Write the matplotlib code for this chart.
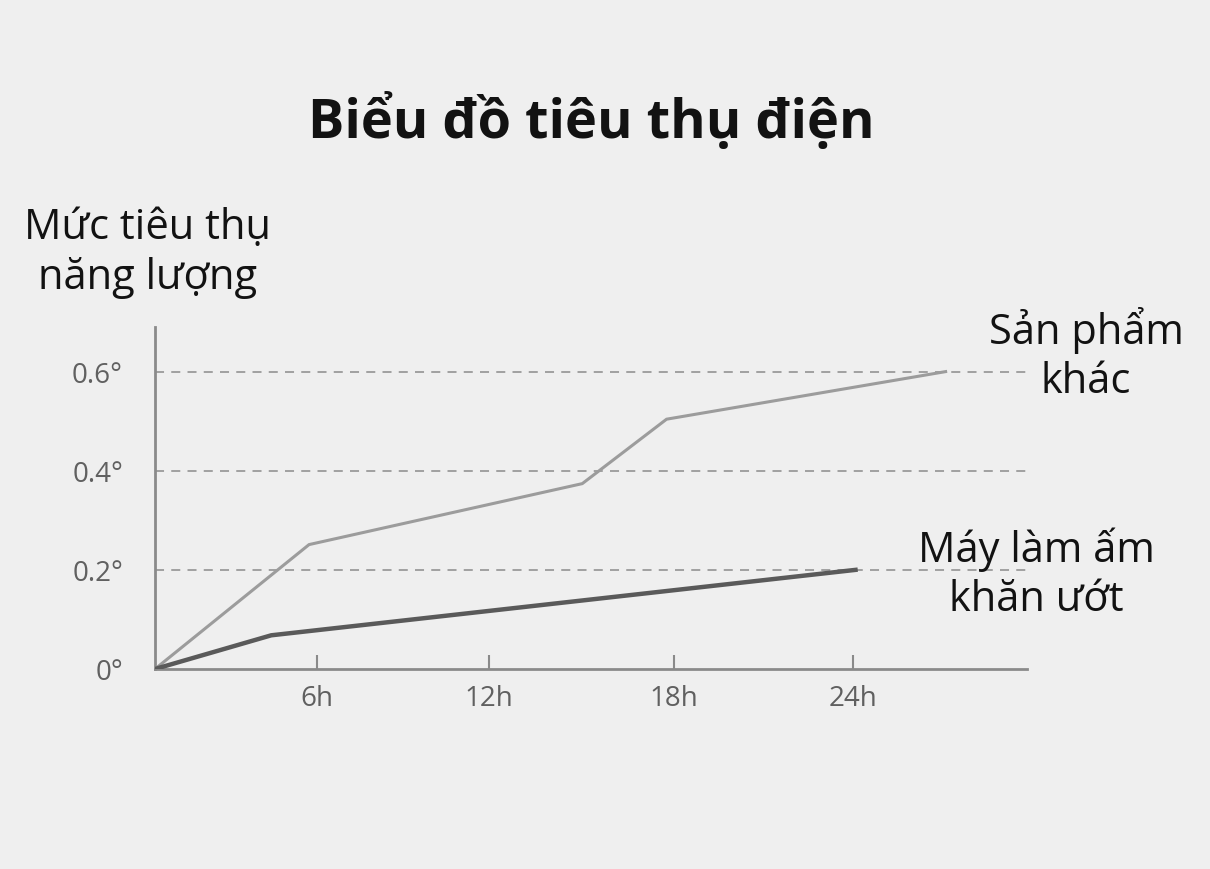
import matplotlib
matplotlib.use("Agg")
import matplotlib.pyplot as plt

# ─── Data ─────────────────────────────────────────────────────────────────────
OTHER_X = [0, 5.3, 14.7, 17.6, 27.2]        # hours
OTHER_Y = [0, 0.251, 0.374, 0.504, 0.6]
WARMER_X = [0, 4.0, 24.1]
WARMER_Y = [0, 0.068, 0.2]

X_TICKS = [5.57, 11.5, 17.85, 24.0]
X_LABELS = ["6h", "12h", "18h", "24h"]
Y_TICKS = [0, 0.2, 0.4, 0.6]
Y_LABELS = ["0°", "0.2°", "0.4°", "0.6°"]

TITLE = "Biểu đồ tiêu thụ điện"
Y_TITLE = "Mức tiêu thụ\nnăng lượng"
OTHER_NAME = "Sản phẩm\nkhác"
WARMER_NAME = "Máy làm ấm\nkhăn ướt"

# ─── Style ────────────────────────────────────────────────────────────────────
BG = "#efefef"
AXIS_C = "#8a8a8a"
GRID_C = "#9a9a9a"
LIGHT_C = "#9c9c9c"
DARK_C = "#5a5a5a"
TICK_C = "#606060"
TEXT_C = "#121212"
FONT = ["Open Sans", "DejaVu Sans"]

W, H = 1210, 870
fig = plt.figure(figsize=(W / 100, H / 100), dpi=100, facecolor=BG)
ax = fig.add_axes([155 / W, 1 - 670 / H, (1027 - 155) / W, (670 - 328) / H])
ax.set_facecolor(BG)
ax.set_xlim(0, 30)
ax.set_ylim(0, 0.69)

for s in ["top", "right"]:
    ax.spines[s].set_visible(False)
for s in ["left", "bottom"]:
    ax.spines[s].set_color(AXIS_C)
    ax.spines[s].set_linewidth(2)

# dashed guide lines
for y in Y_TICKS[1:]:
    ax.axhline(y, color=GRID_C, lw=1.3, ls=(0, (5, 4)), zorder=1)

ax.plot(OTHER_X, OTHER_Y, color=LIGHT_C, lw=2.2, zorder=3, solid_joinstyle="miter")
ax.plot(WARMER_X, WARMER_Y, color=DARK_C, lw=3.2, zorder=4, solid_joinstyle="miter")

ax.set_xticks(X_TICKS)
ax.set_xticklabels(X_LABELS)
ax.set_yticks(Y_TICKS)
ax.set_yticklabels(Y_LABELS)
ax.tick_params(axis="x", direction="in", length=10, width=1.5, color=AXIS_C,
               pad=11, labelsize=20, labelcolor=TICK_C)
ax.tick_params(axis="y", length=0, pad=23, labelsize=20, labelcolor=TICK_C)
for lab in ax.get_xticklabels() + ax.get_yticklabels():
    lab.set_family(FONT)

# ─── Texts ────────────────────────────────────────────────────────────────────
fig.text(591 / W, 1 - 122 / H, TITLE, ha="center", va="center",
         fontsize=39, fontweight="bold", color=TEXT_C, family=FONT)
fig.text(148 / W, 1 - 253 / H, Y_TITLE, ha="center", va="center",
         fontsize=30, color=TEXT_C, family=FONT, linespacing=1.22)
fig.text(1086 / W, 1 - 355 / H, OTHER_NAME, ha="center", va="center",
         fontsize=30, color=TEXT_C, family=FONT, linespacing=1.22)
fig.text(1036 / W, 1 - 574 / H, WARMER_NAME, ha="center", va="center",
         fontsize=30, color=TEXT_C, family=FONT, linespacing=1.22)

fig.savefig("out.png", dpi=100, facecolor=BG)
